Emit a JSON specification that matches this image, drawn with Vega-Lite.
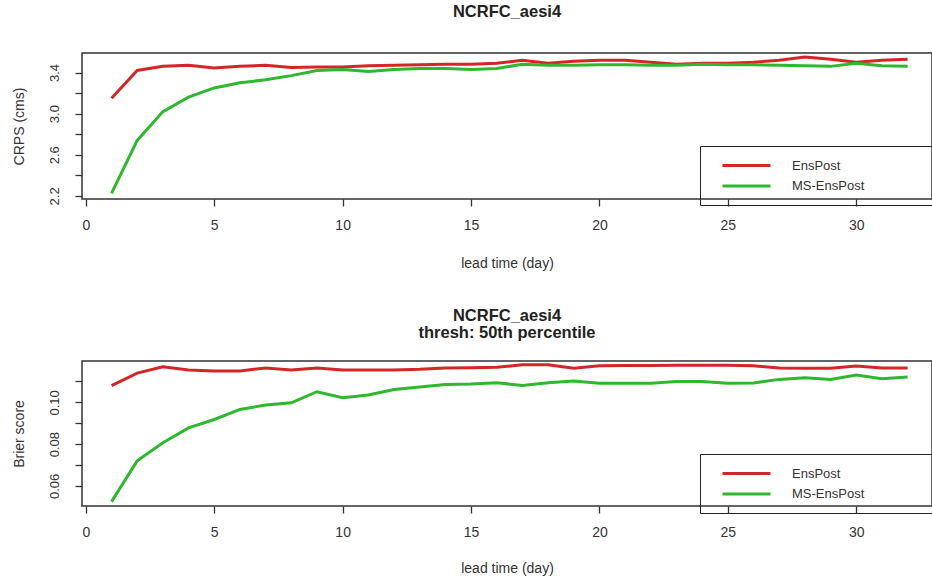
{
  "$schema": "https://vega.github.io/schema/vega-lite/v6.json",
  "background": "white",
  "padding": {"left": 11, "top": 2, "right": 0, "bottom": 0},
  "spacing": 35,
  "config": {
    "font": "Liberation Sans",
    "view": {"stroke": "#333333", "strokeWidth": 1.5},
    "axis": {"grid": false, "domain": false, "tickColor": "#333333", "tickSize": 7, "tickWidth": 1.3, "labelColor": "#333333", "titleColor": "#333333", "labelFontSize": 14, "titleFontSize": 14, "titleFontWeight": "normal"},
    "axisY": {"labelFontSize": 13},
    "title": {"fontSize": 16.5, "fontWeight": "bold", "color": "#222222", "anchor": "middle", "lineHeight": 17},
    "legend": {"orient": "none", "strokeColor": "#222222", "padding": 12, "rowPadding": 5.4, "symbolType": "M-4,0H4", "symbolSize": 144, "symbolStrokeWidth": 3, "symbolOffset": 27, "labelOffset": 38, "labelFontSize": 13, "labelColor": "#333333", "titleOrient": "right", "titlePadding": 80, "titleFontSize": 13}
  },
  "vconcat": [
    {
      "title": {"text": "NCRFC_aesi4", "offset": 33},
      "width": 850,
      "height": 146,
      "data": {"values": [
        {"day": 1, "model": "EnsPost", "crps": 3.15}, {"day": 2, "model": "EnsPost", "crps": 3.42}, {"day": 3, "model": "EnsPost", "crps": 3.46}, {"day": 4, "model": "EnsPost", "crps": 3.47}, {"day": 5, "model": "EnsPost", "crps": 3.445}, {"day": 6, "model": "EnsPost", "crps": 3.46}, {"day": 7, "model": "EnsPost", "crps": 3.47}, {"day": 8, "model": "EnsPost", "crps": 3.45}, {"day": 9, "model": "EnsPost", "crps": 3.455}, {"day": 10, "model": "EnsPost", "crps": 3.455}, {"day": 11, "model": "EnsPost", "crps": 3.465}, {"day": 12, "model": "EnsPost", "crps": 3.47}, {"day": 13, "model": "EnsPost", "crps": 3.475}, {"day": 14, "model": "EnsPost", "crps": 3.48}, {"day": 15, "model": "EnsPost", "crps": 3.48}, {"day": 16, "model": "EnsPost", "crps": 3.49}, {"day": 17, "model": "EnsPost", "crps": 3.52}, {"day": 18, "model": "EnsPost", "crps": 3.49}, {"day": 19, "model": "EnsPost", "crps": 3.51}, {"day": 20, "model": "EnsPost", "crps": 3.52}, {"day": 21, "model": "EnsPost", "crps": 3.52}, {"day": 22, "model": "EnsPost", "crps": 3.5}, {"day": 23, "model": "EnsPost", "crps": 3.48}, {"day": 24, "model": "EnsPost", "crps": 3.49}, {"day": 25, "model": "EnsPost", "crps": 3.49}, {"day": 26, "model": "EnsPost", "crps": 3.5}, {"day": 27, "model": "EnsPost", "crps": 3.52}, {"day": 28, "model": "EnsPost", "crps": 3.55}, {"day": 29, "model": "EnsPost", "crps": 3.53}, {"day": 30, "model": "EnsPost", "crps": 3.5}, {"day": 31, "model": "EnsPost", "crps": 3.52}, {"day": 32, "model": "EnsPost", "crps": 3.53},
        {"day": 1, "model": "MS-EnsPost", "crps": 2.225}, {"day": 2, "model": "MS-EnsPost", "crps": 2.74}, {"day": 3, "model": "MS-EnsPost", "crps": 3.02}, {"day": 4, "model": "MS-EnsPost", "crps": 3.16}, {"day": 5, "model": "MS-EnsPost", "crps": 3.25}, {"day": 6, "model": "MS-EnsPost", "crps": 3.3}, {"day": 7, "model": "MS-EnsPost", "crps": 3.33}, {"day": 8, "model": "MS-EnsPost", "crps": 3.37}, {"day": 9, "model": "MS-EnsPost", "crps": 3.42}, {"day": 10, "model": "MS-EnsPost", "crps": 3.43}, {"day": 11, "model": "MS-EnsPost", "crps": 3.41}, {"day": 12, "model": "MS-EnsPost", "crps": 3.43}, {"day": 13, "model": "MS-EnsPost", "crps": 3.44}, {"day": 14, "model": "MS-EnsPost", "crps": 3.44}, {"day": 15, "model": "MS-EnsPost", "crps": 3.43}, {"day": 16, "model": "MS-EnsPost", "crps": 3.44}, {"day": 17, "model": "MS-EnsPost", "crps": 3.48}, {"day": 18, "model": "MS-EnsPost", "crps": 3.47}, {"day": 19, "model": "MS-EnsPost", "crps": 3.47}, {"day": 20, "model": "MS-EnsPost", "crps": 3.475}, {"day": 21, "model": "MS-EnsPost", "crps": 3.475}, {"day": 22, "model": "MS-EnsPost", "crps": 3.47}, {"day": 23, "model": "MS-EnsPost", "crps": 3.47}, {"day": 24, "model": "MS-EnsPost", "crps": 3.48}, {"day": 25, "model": "MS-EnsPost", "crps": 3.475}, {"day": 26, "model": "MS-EnsPost", "crps": 3.475}, {"day": 27, "model": "MS-EnsPost", "crps": 3.47}, {"day": 28, "model": "MS-EnsPost", "crps": 3.465}, {"day": 29, "model": "MS-EnsPost", "crps": 3.46}, {"day": 30, "model": "MS-EnsPost", "crps": 3.49}, {"day": 31, "model": "MS-EnsPost", "crps": 3.465}, {"day": 32, "model": "MS-EnsPost", "crps": 3.46}
      ]},
      "mark": {"type": "line", "strokeWidth": 3, "clip": true},
      "encoding": {
        "x": {"field": "day", "type": "quantitative", "scale": {"domain": [-0.15, 32.95], "nice": false, "zero": false}, "axis": {"values": [0, 5, 10, 15, 20, 25, 30], "labelPadding": 12, "title": "lead time (day)", "titlePadding": 24}},
        "y": {"field": "crps", "type": "quantitative", "scale": {"domain": [2.17, 3.59], "nice": false, "zero": false}, "axis": {"values": [2.2, 2.4, 2.6, 2.8, 3.0, 3.2, 3.4], "labelExpr": "(abs(datum.value-2.2)<0.01||abs(datum.value-2.6)<0.01||abs(datum.value-3.0)<0.01||abs(datum.value-3.4)<0.01) ? format(datum.value, '.1f') : ''", "labelAngle": -90, "labelAlign": "center", "labelBaseline": "bottom", "labelPadding": 14, "title": "CRPS (cms)", "titlePadding": 22}},
        "color": {"field": "model", "type": "nominal", "scale": {"domain": ["EnsPost", "MS-EnsPost"], "range": ["#d42626", "#2db82d"]}, "legend": {"legendX": 618, "legendY": 93, "title": " "}}
      }
    },
    {
      "title": {"text": ["NCRFC_aesi4", "thresh: 50th percentile"], "offset": 20},
      "width": 850,
      "height": 145,
      "data": {"values": [
        {"day": 1, "model": "EnsPost", "brier": 0.108}, {"day": 2, "model": "EnsPost", "brier": 0.114}, {"day": 3, "model": "EnsPost", "brier": 0.117}, {"day": 4, "model": "EnsPost", "brier": 0.1155}, {"day": 5, "model": "EnsPost", "brier": 0.115}, {"day": 6, "model": "EnsPost", "brier": 0.115}, {"day": 7, "model": "EnsPost", "brier": 0.1165}, {"day": 8, "model": "EnsPost", "brier": 0.1155}, {"day": 9, "model": "EnsPost", "brier": 0.1165}, {"day": 10, "model": "EnsPost", "brier": 0.1155}, {"day": 11, "model": "EnsPost", "brier": 0.1155}, {"day": 12, "model": "EnsPost", "brier": 0.1155}, {"day": 13, "model": "EnsPost", "brier": 0.1158}, {"day": 14, "model": "EnsPost", "brier": 0.1165}, {"day": 15, "model": "EnsPost", "brier": 0.1166}, {"day": 16, "model": "EnsPost", "brier": 0.1168}, {"day": 17, "model": "EnsPost", "brier": 0.118}, {"day": 18, "model": "EnsPost", "brier": 0.118}, {"day": 19, "model": "EnsPost", "brier": 0.1163}, {"day": 20, "model": "EnsPost", "brier": 0.1175}, {"day": 21, "model": "EnsPost", "brier": 0.1177}, {"day": 22, "model": "EnsPost", "brier": 0.1177}, {"day": 23, "model": "EnsPost", "brier": 0.1178}, {"day": 24, "model": "EnsPost", "brier": 0.1178}, {"day": 25, "model": "EnsPost", "brier": 0.1178}, {"day": 26, "model": "EnsPost", "brier": 0.1175}, {"day": 27, "model": "EnsPost", "brier": 0.1165}, {"day": 28, "model": "EnsPost", "brier": 0.1163}, {"day": 29, "model": "EnsPost", "brier": 0.1163}, {"day": 30, "model": "EnsPost", "brier": 0.1174}, {"day": 31, "model": "EnsPost", "brier": 0.1165}, {"day": 32, "model": "EnsPost", "brier": 0.1165},
        {"day": 1, "model": "MS-EnsPost", "brier": 0.0525}, {"day": 2, "model": "MS-EnsPost", "brier": 0.072}, {"day": 3, "model": "MS-EnsPost", "brier": 0.0807}, {"day": 4, "model": "MS-EnsPost", "brier": 0.0878}, {"day": 5, "model": "MS-EnsPost", "brier": 0.0918}, {"day": 6, "model": "MS-EnsPost", "brier": 0.0966}, {"day": 7, "model": "MS-EnsPost", "brier": 0.0987}, {"day": 8, "model": "MS-EnsPost", "brier": 0.0998}, {"day": 9, "model": "MS-EnsPost", "brier": 0.1051}, {"day": 10, "model": "MS-EnsPost", "brier": 0.1022}, {"day": 11, "model": "MS-EnsPost", "brier": 0.1035}, {"day": 12, "model": "MS-EnsPost", "brier": 0.1062}, {"day": 13, "model": "MS-EnsPost", "brier": 0.1073}, {"day": 14, "model": "MS-EnsPost", "brier": 0.1086}, {"day": 15, "model": "MS-EnsPost", "brier": 0.1088}, {"day": 16, "model": "MS-EnsPost", "brier": 0.1094}, {"day": 17, "model": "MS-EnsPost", "brier": 0.1081}, {"day": 18, "model": "MS-EnsPost", "brier": 0.1094}, {"day": 19, "model": "MS-EnsPost", "brier": 0.1102}, {"day": 20, "model": "MS-EnsPost", "brier": 0.1091}, {"day": 21, "model": "MS-EnsPost", "brier": 0.1091}, {"day": 22, "model": "MS-EnsPost", "brier": 0.1092}, {"day": 23, "model": "MS-EnsPost", "brier": 0.11}, {"day": 24, "model": "MS-EnsPost", "brier": 0.11}, {"day": 25, "model": "MS-EnsPost", "brier": 0.1091}, {"day": 26, "model": "MS-EnsPost", "brier": 0.1093}, {"day": 27, "model": "MS-EnsPost", "brier": 0.111}, {"day": 28, "model": "MS-EnsPost", "brier": 0.1118}, {"day": 29, "model": "MS-EnsPost", "brier": 0.111}, {"day": 30, "model": "MS-EnsPost", "brier": 0.1131}, {"day": 31, "model": "MS-EnsPost", "brier": 0.1113}, {"day": 32, "model": "MS-EnsPost", "brier": 0.1121}
      ]},
      "mark": {"type": "line", "strokeWidth": 3, "clip": true},
      "encoding": {
        "x": {"field": "day", "type": "quantitative", "scale": {"domain": [-0.15, 32.95], "nice": false, "zero": false}, "axis": {"values": [0, 5, 10, 15, 20, 25, 30], "labelPadding": 12, "title": "lead time (day)", "titlePadding": 22}},
        "y": {"field": "brier", "type": "quantitative", "scale": {"domain": [0.0504, 0.1198], "nice": false, "zero": false}, "axis": {"values": [0.06, 0.07, 0.08, 0.09, 0.10, 0.11], "labelExpr": "(abs(datum.value-0.06)<0.001||abs(datum.value-0.08)<0.001||abs(datum.value-0.10)<0.001) ? format(datum.value, '.2f') : ''", "labelAngle": -90, "labelAlign": "center", "labelBaseline": "bottom", "labelPadding": 14, "title": "Brier score", "titlePadding": 22}},
        "color": {"field": "model", "type": "nominal", "scale": {"domain": ["EnsPost", "MS-EnsPost"], "range": ["#d42626", "#2db82d"]}, "legend": {"legendX": 618, "legendY": 93, "title": " "}}
      }
    }
  ],
  "resolve": {"scale": {"color": "independent"}, "legend": {"color": "independent"}}
}
